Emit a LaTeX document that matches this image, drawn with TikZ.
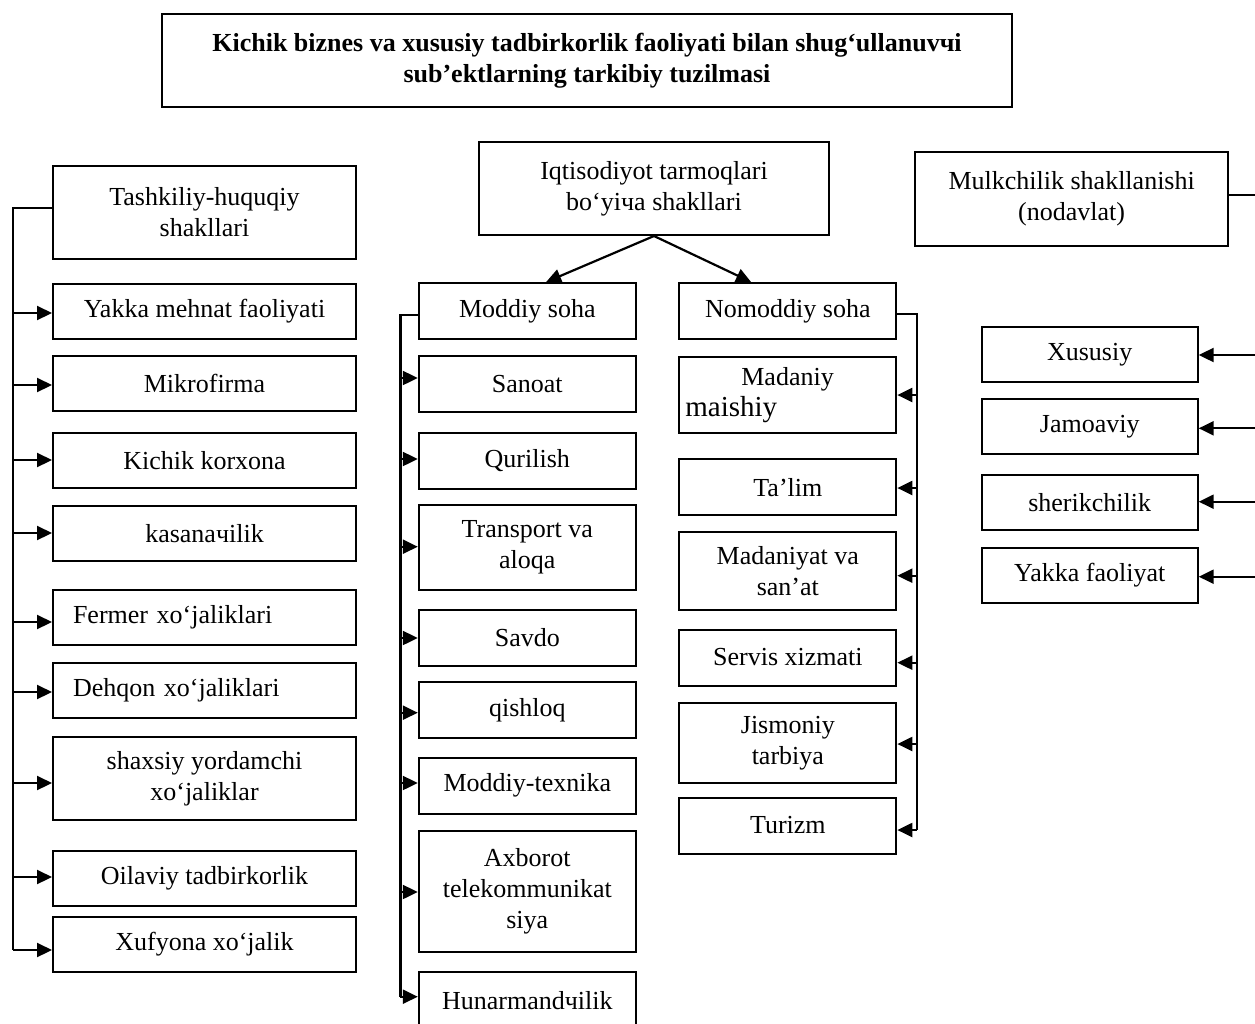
\documentclass[tikz,border=0pt]{standalone}
\usepackage{fontspec}
\setmainfont{Liberation Serif}
\usetikzlibrary{arrows.meta,calc}
\begin{document}
\begin{tikzpicture}[x=1pt,y=-1pt,
  box/.style={draw, line width=2pt, align=center, inner sep=2pt, font=\fontsize{26}{31}\selectfont},
  lbox/.style={box, minimum width=303pt, minimum height=55pt},
  mbox/.style={box, minimum width=217pt, minimum height=56pt},
  rbox/.style={box, minimum width=216pt, minimum height=55pt},
  ln/.style={line width=2.2pt},
  arr/.style={line width=2.2pt, -{Triangle[length=15pt,width=14pt]}}]
\useasboundingbox (0,0) rectangle (1255,1023);
\clip (0,0) rectangle (1255,1023);
\fill[white] (0,0) rectangle (1255,1023);

% title
\node[box, line width=2.3pt, minimum width=850pt, minimum height=93pt, font=\bfseries\fontsize{26}{31}\selectfont] (title) at (587,60.5)
  {Kichik biznes va xususiy tadbirkorlik faoliyati bilan shug‘ullanuvчi\\sub’ektlarning tarkibiy tuzilmasi};

% left column
\node[box, minimum width=303pt, minimum height=93pt] (T) at (204.5,212.5) {Tashkiliy-huquqiy\\shakllari};
\node[lbox] (L1) at (204.5,311.5) {Yakka mehnat faoliyati};
\node[lbox] (L2) at (204.5,383.75) {Mikrofirma};
\node[lbox] (L3) at (204.5,460.5) {Kichik korxona};
\node[lbox] (L4) at (204.5,533.5) {kasanaчilik};
\node[lbox, text width=263pt, inner xsep=20pt, align=left] (L5) at (204.5,617.5) {Fermer xo‘jaliklari};
\node[lbox, text width=263pt, inner xsep=20pt, align=left] (L6) at (204.5,690) {Dehqon xo‘jaliklari};
\node[lbox, minimum height=83pt] (L7) at (204.5,778.5) {shaxsiy yordamchi\\xo‘jaliklar};
\node[lbox] (L8) at (204.5,878.5) {Oilaviy tadbirkorlik};
\node[lbox] (L9) at (204.5,944.5) {Xufyona xo‘jalik};

\coordinate (lt) at (13,208);
\draw[ln] (T.west |- lt) -- (lt) -- (lt |- 0,950);
\foreach \n/\y in {L1/313,L2/385,L3/460,L4/533,L5/622,L6/692,L7/783,L8/877,L9/950}
  \draw[arr] (lt |- 0,\y) -- (\n.west |- 0,\y);

% middle column
\node[box, minimum width=350pt, minimum height=93pt] (I) at (654,188.5) {Iqtisodiyot tarmoqlari\\bo‘yiча shakllari};
\node[mbox] (M) at (527.3,311) {Moddiy soha};
\node[mbox] (N) at (787.85,311) {Nomoddiy soha};
\draw[arr] (I.south) -- ($(M.north west)!0.586!(M.north east)$);
\draw[arr] (I.south) -- ($(N.north west)!0.332!(N.north east)$);

\node[mbox] (M1) at (527.3,383.85) {Sanoat};
\node[mbox] (M2) at (527.3,460.5) {Qurilish};
\node[mbox, minimum height=85pt] (M3) at (527.3,547.5) {Transport va\\aloqa};
\node[mbox] (M4) at (527.3,637.85) {Savdo};
\node[mbox] (M5) at (527.3,710.3) {qishloq};
\node[mbox] (M6) at (527.3,785.5) {Moddiy-texnika};
\node[mbox, minimum height=121pt] (M7) at (527.3,891.2) {Axborot\\telekommunikat\\siya};
\node[mbox] (M8) at (527.3,1000.3) {Hunarmandчilik};

\coordinate (mt) at (400.4,315);
\draw[ln] (M.west |- mt) -- (mt) -- (mt |- 0,996.7);
\foreach \n/\y in {M1/378,M2/459,M3/546.7,M4/638,M5/712.7,M6/783,M7/892,M8/996.7}
  \draw[arr] (mt |- 0,\y) -- (\n.west |- 0,\y);

\node[mbox, minimum height=76pt, text width=205pt, inner xsep=6pt, align=left] (N1) at (787.85,394.7)
  {\hspace*{56pt}Madaniy\\{\fontsize{29}{31}\selectfont maishiy}};
\node[mbox] (N2) at (787.85,487.15) {Ta’lim};
\node[mbox, minimum height=78pt] (N3) at (787.85,570.85) {Madaniyat va\\san’at};
\node[mbox] (N4) at (787.85,657.5) {Servis xizmati};
\node[mbox, minimum height=80pt] (N5) at (787.85,743) {Jismoniy\\tarbiya};
\node[mbox] (N6) at (787.85,825.5) {Turizm};

\coordinate (nt) at (916.6,314);
\draw[ln] (N.east |- nt) -- (nt) -- (nt |- 0,830);
\foreach \n/\y in {N1/395,N2/488,N3/575.7,N4/662.7,N5/744,N6/830}
  \draw[arr] (nt |- 0,\y) -- (\n.east |- 0,\y);

% right column
\node[box, minimum width=313pt, minimum height=94pt] (R) at (1071.65,198.7) {Mulkchilik shakllanishi\\(nodavlat)};
\node[rbox] (R1) at (1089.7,354.2) {Xususiy};
\node[rbox] (R2) at (1089.7,426.65) {Jamoaviy};
\node[rbox] (R3) at (1089.7,502.5) {sherikchilik};
\node[rbox] (R4) at (1089.7,575) {Yakka faoliyat};

\coordinate (rt) at (1262,195);
\draw[ln] (R.east |- rt) -- (rt) -- (rt |- 0,577);
\foreach \n/\y in {R1/355,R2/428.3,R3/501.7,R4/576.7}
  \draw[arr] (rt |- 0,\y) -- (\n.east |- 0,\y);
\end{tikzpicture}
\end{document}
